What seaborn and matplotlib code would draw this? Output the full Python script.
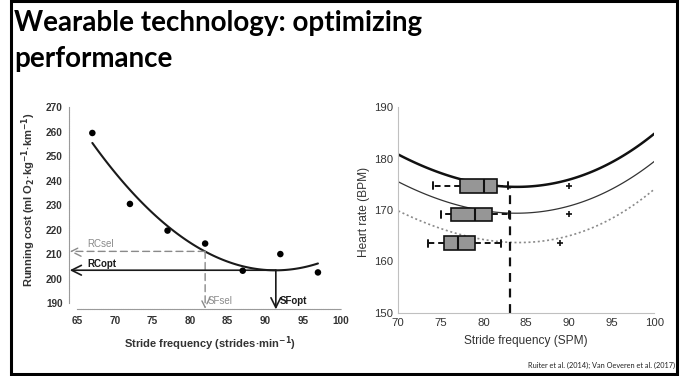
import matplotlib
matplotlib.use("Agg")
import matplotlib.pyplot as plt
import seaborn as sns
from matplotlib.patches import Rectangle
from matplotlib.ticker import MultipleLocator

# ---- Running cost vs stride frequency ----
stride_obs = [67, 72, 77, 82, 87, 92, 97]
cost_obs = [259.5, 230.5, 219.6, 214.3, 203.2, 210.0, 202.5]
stride_fit = [67, 72, 77, 82, 87, 91.4, 97]
cost_fit = [255.5, 236.2, 221.3, 211.1, 205.1, 203.4, 206.1]
sf_sel, rc_sel = 82.0, 211.1
sf_opt, rc_opt = 91.4, 203.4

# ---- Heart rate vs stride frequency ----
spm_grid = [70, 73, 76, 79, 82, 85, 88, 91, 94, 97, 100]
hr_high = [180.8, 178.5, 176.6, 175.3, 174.6, 174.6, 175.2, 176.4, 178.4, 181.2, 184.9]
hr_mid = [175.4, 173.3, 171.5, 170.2, 169.4, 169.3, 170.0, 171.3, 173.3, 176.0, 179.4]
hr_low = [169.8, 167.6, 165.9, 164.6, 163.8, 163.6, 164.2, 165.5, 167.5, 170.4, 174.0]
box_level = [174.7, 169.15, 163.55]
box_whislo = [74.1, 75.0, 73.5]
box_q1 = [77.2, 76.2, 75.4]
box_med = [80.0, 79.0, 77.0]
box_q3 = [81.6, 81.0, 79.0]
box_whishi = [82.9, 83.0, 82.0]
box_flier = [90.0, 90.0, 89.0]
spm_target, hr_target = 83.1, 174.5

sns.set_style("white")
plt.rcParams["font.family"] = ["Liberation Sans", "DejaVu Sans"]

W, H = 683, 376
fig = plt.figure(figsize=(W / 100, H / 100), dpi=100)


def frac(x0, y0, x1, y1):
    return [x0 / W, 1 - y1 / H, (x1 - x0) / W, (y1 - y0) / H]


# slide frame
fig.add_artist(Rectangle((10.5 / W, 1 - 373.5 / H), 666 / W, 372.5 / H,
                         transform=fig.transFigure, fill=False,
                         lw=2.2, ec="black", zorder=10))

# slide title
tkw = dict(fontfamily="Lato", fontweight="bold", fontsize=20, va="baseline",
           color="black")
fig.text(14 / W, 1 - 31 / H, "Wearable technology: optimizing", **tkw)
fig.text(14 / W, 1 - 67 / H, "performance", **tkw)

# citation
fig.text(675 / W, 1 - 368 / H,
         "Ruiter et al. (2014); Van Oeveren et al. (2017)",
         fontfamily="Lato", fontsize=5.3, ha="right", va="baseline",
         color="#222")

# ================= left panel =================
ax1 = fig.add_axes(frac(77.3, 107.3, 340.5, 303))
sns.scatterplot(x=stride_obs, y=cost_obs, ax=ax1, color="black", s=22,
                edgecolor="none", zorder=4)
sns.regplot(x=stride_fit, y=cost_fit, order=2, ci=None, scatter=False,
            ax=ax1, line_kws=dict(color="#1a1a1a", lw=1.5, zorder=3))
ax1.set_xlim(65, 100)
ax1.set_ylim(190, 270)
ax1.xaxis.set_major_locator(MultipleLocator(5))
ax1.xaxis.set_minor_locator(MultipleLocator(1))
ax1.yaxis.set_major_locator(MultipleLocator(10))
ax1.yaxis.set_minor_locator(MultipleLocator(2))
sns.despine(ax=ax1, offset={"left": 5.8, "bottom": 4.3})
for s in ("left", "bottom"):
    ax1.spines[s].set_color("#9a9a9a")
    ax1.spines[s].set_linewidth(0.8)
    ax1.spines[s].set_linestyle((0, (1.2, 0.8)))
ax1.tick_params(which="major", length=2.5, width=0.7, color="#888",
                direction="inout", labelsize=7.2, labelcolor="#333", pad=3.5)
ax1.tick_params(which="minor", length=1.6, width=0.6, color="#999",
                direction="inout")
for lab in ax1.get_xticklabels() + ax1.get_yticklabels():
    lab.set_fontweight("bold")
ax1.set_xlabel("Stride frequency (strides·min$^{\\mathbf{-1}}$)",
               fontsize=8, fontweight="bold", color="#333")
ax1.set_ylabel("Running cost (ml O$_{\\mathbf{2}}$·kg$^{\\mathbf{-1}}$·km$^{\\mathbf{-1}}$)",
               fontsize=8, fontweight="bold", color="#333")
ax1.xaxis.set_label_coords(0.504, -0.163)
ax1.yaxis.set_label_coords(-0.15, 0.526)

gray = "#8a8a8a"
akw = dict(annotation_clip=False)
head = "->,head_length=0.7,head_width=0.35"
# selected point: dashed guides
ax1.annotate("", xy=(64.0, rc_sel), xytext=(sf_sel, rc_sel),
             arrowprops=dict(arrowstyle=head, color=gray, lw=1.0,
                             ls=(0, (5, 3)), shrinkA=0, shrinkB=0,
                             mutation_scale=10), **akw)
ax1.annotate("", xy=(sf_sel, 187.6), xytext=(sf_sel, rc_sel),
             arrowprops=dict(arrowstyle=head, color=gray, lw=1.0,
                             ls=(0, (5, 3)), shrinkA=0, shrinkB=0,
                             mutation_scale=10), **akw)
# optimum point: solid guides
ax1.annotate("", xy=(64.0, rc_opt), xytext=(sf_opt, rc_opt),
             arrowprops=dict(arrowstyle=head, color="#1a1a1a", lw=1.2,
                             shrinkA=0, shrinkB=0, mutation_scale=10), **akw)
ax1.annotate("", xy=(sf_opt, 187.4), xytext=(sf_opt, rc_opt),
             arrowprops=dict(arrowstyle=head, color="#1a1a1a", lw=1.2,
                             shrinkA=0, shrinkB=0, mutation_scale=10), **akw)
ax1.text(66.3, rc_sel + 3.0, "RCsel", fontsize=7, color=gray, va="center")
ax1.text(66.4, rc_opt + 2.6, "RCopt", fontsize=7, color="#1a1a1a",
         fontweight="bold", va="center")
ax1.text(sf_sel + 0.3, 191, "SFsel", fontsize=7, color=gray, va="center")
ax1.text(sf_opt + 0.5, 191, "SFopt", fontsize=7, color="#1a1a1a",
         fontweight="bold", va="center")

# ================= right panel =================
ax2 = fig.add_axes(frac(398.3, 107.3, 654.3, 312.7))
curve_styles = [
    (hr_high, dict(color="#111", lw=1.8)),
    (hr_mid, dict(color="#333", lw=0.9)),
    (hr_low, dict(color="#8a8a8a", lw=1.2, ls=(0, (1.2, 1.6)))),
]
for hr, kw in curve_styles:
    sns.regplot(x=spm_grid, y=hr, order=3, ci=None, scatter=False, ax=ax2,
                line_kws=kw)
ax2.plot([spm_target, spm_target], [150, hr_target], color="#111", lw=1.6,
         ls=(0, (4, 3)), zorder=2)

stats = [dict(whislo=lo, q1=a, med=m, q3=b, whishi=hi, fliers=[f])
         for lo, a, m, b, hi, f in zip(box_whislo, box_q1, box_med, box_q3,
                                       box_whishi, box_flier)]
ax2.bxp(stats, positions=box_level, widths=2.6, orientation="horizontal",
        patch_artist=True, manage_ticks=False, capwidths=1.4,
        boxprops=dict(facecolor="#969696", edgecolor="#111", lw=1.2),
        medianprops=dict(color="#111", lw=1.5),
        whiskerprops=dict(color="#111", lw=1.4, ls=(0, (3, 2))),
        capprops=dict(color="#111", lw=1.4),
        flierprops=dict(marker="+", markeredgecolor="#111", markersize=5,
                        mew=1.2))
ax2.set_xlim(70, 100)
ax2.set_ylim(150, 190)
ax2.set_xticks(range(70, 101, 5))
ax2.set_yticks(range(150, 191, 10))
ax2.set_xlabel("Stride frequency (SPM)", fontsize=8.6, color="#333")
ax2.set_ylabel("Heart rate (BPM)", fontsize=8.6, color="#333")
sns.despine(ax=ax2)
for s in ("left", "bottom"):
    ax2.spines[s].set_color("#c0c0c0")
    ax2.spines[s].set_linewidth(0.8)
ax2.tick_params(length=2.5, width=0.7, color="#c0c0c0", direction="in",
                labelsize=8.2, labelcolor="#333", pad=3.5)
ax2.xaxis.set_label_coords(0.5, -0.109)
ax2.yaxis.set_label_coords(-0.1105, 0.492)

fig.savefig("out.png", dpi=100)
